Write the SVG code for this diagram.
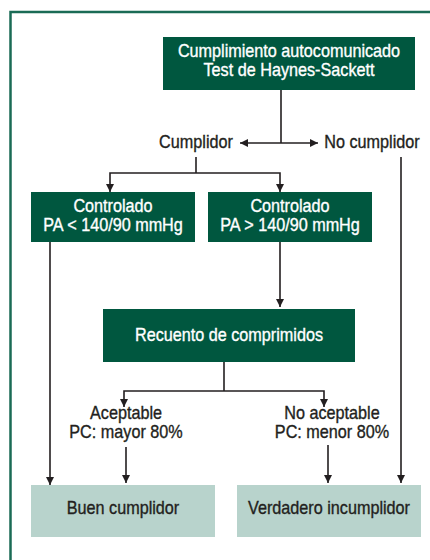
<svg xmlns="http://www.w3.org/2000/svg" width="430" height="560" viewBox="0 0 430 560">
<defs>
<marker id="ah" viewBox="0 0 10 10" refX="10" refY="5" markerWidth="8" markerHeight="8" markerUnits="userSpaceOnUse" orient="auto">
<path d="M0,0 L10,5 L0,10 z" fill="#231f20"/>
</marker>
<style>
text{font-family:"Liberation Sans",Arial,sans-serif;font-size:18px;text-anchor:middle;stroke-width:0.35}
.dk{fill:#00573f}
.lt{fill:#b8d3cc}
.w{fill:#ffffff;stroke:#ffffff}
.b{fill:#231f20;stroke:#231f20}
.c{stroke:#231f20;stroke-width:1.6;fill:none}
.a{marker-end:url(#ah)}
</style>
</defs>
<rect width="430" height="560" fill="#ffffff"/>
<path d="M10.5,560 V12 H430" stroke="#1a6b55" stroke-width="2.5" fill="none"/>
<g id="connectors">
<path class="c" d="M281,90 V143"/>
<path class="c a" d="M281,143 H240"/>
<path class="c a" d="M281,143 H318"/>
<path class="c" d="M196,157 V173"/>
<path class="c a" d="M196,173 H110 V192"/>
<path class="c a" d="M196,173 H280 V192"/>
<path class="c a" d="M401,157 V483"/>
<path class="c a" d="M50,242 V485"/>
<path class="c a" d="M280,242 V307"/>
<path class="c" d="M224,362 V391"/>
<path class="c a" d="M224,391 H124 V407"/>
<path class="c a" d="M224,391 H324 V407"/>
<path class="c a" d="M126,447 V483"/>
<path class="c a" d="M328,445 V483"/>
</g>
<g id="n_top">
<rect class="dk" x="163" y="37" width="252" height="53"/>
<text class="w" transform="translate(289,57) scale(0.9,1)">Cumplimiento autocomunicado</text>
<text class="w" transform="translate(289,76) scale(0.9,1)">Test de Haynes-Sackett</text>
</g>
<g id="n_cumplidor">
<text class="b" transform="translate(196,148) scale(0.9,1)">Cumplidor</text>
</g>
<g id="n_nocumplidor">
<text class="b" transform="translate(372,148) scale(0.9,1)">No cumplidor</text>
</g>
<g id="n_ctrl_low">
<rect class="dk" x="31" y="192" width="164" height="50"/>
<text class="w" transform="translate(113,212) scale(0.9,1)">Controlado</text>
<text class="w" transform="translate(113,231) scale(0.9,1)">PA &lt; 140/90 mmHg</text>
</g>
<g id="n_ctrl_high">
<rect class="dk" x="208" y="192" width="164" height="50"/>
<text class="w" transform="translate(290,212) scale(0.9,1)">Controlado</text>
<text class="w" transform="translate(290,231) scale(0.9,1)">PA &gt; 140/90 mmHg</text>
</g>
<g id="n_recuento">
<rect class="dk" x="103" y="309" width="252" height="53"/>
<text class="w" transform="translate(229,341) scale(0.9,1)">Recuento de comprimidos</text>
</g>
<g id="n_aceptable">
<text class="b" transform="translate(126,419) scale(0.9,1)">Aceptable</text>
<text class="b" transform="translate(126,438) scale(0.9,1)">PC: mayor 80%</text>
</g>
<g id="n_noaceptable">
<text class="b" transform="translate(332,419) scale(0.9,1)">No aceptable</text>
<text class="b" transform="translate(332,438) scale(0.9,1)">PC: menor 80%</text>
</g>
<g id="n_buen">
<rect class="lt" x="31" y="485" width="184" height="52"/>
<text class="b" transform="translate(123,514) scale(0.9,1)">Buen cumplidor</text>
</g>
<g id="n_verdadero">
<rect class="lt" x="237" y="485" width="184" height="52"/>
<text class="b" transform="translate(329,514) scale(0.9,1)">Verdadero incumplidor</text>
</g>
</svg>
